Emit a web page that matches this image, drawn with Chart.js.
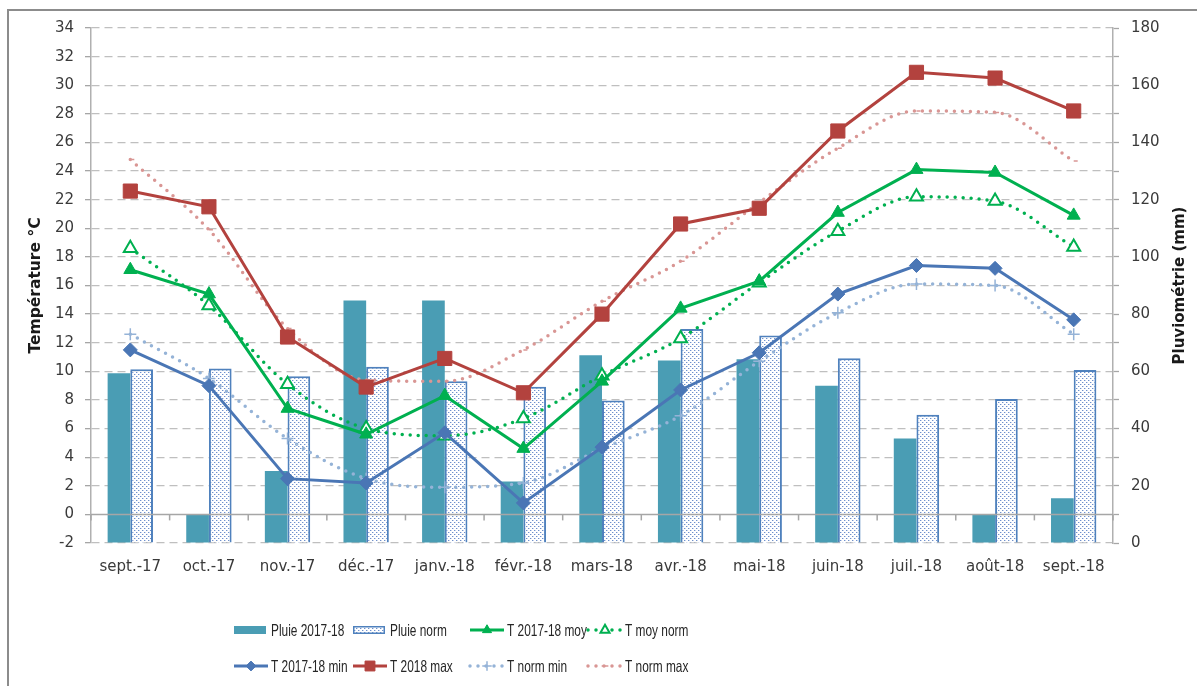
<!DOCTYPE html>
<html><head><meta charset="utf-8">
<script src="https://cdn.jsdelivr.net/npm/chart.js@4.4.1/dist/chart.umd.min.js"></script>
<style>
html,body{margin:0;padding:0;background:#fff;overflow:hidden}
#wrap{position:relative;width:1197px;height:686px}
</style></head>
<body><div id="wrap"><canvas id="c" width="1197" height="686"></canvas></div>
<script>
// ---------- DATA ----------
const months = ['sept.-17','oct.-17','nov.-17','déc.-17','janv.-18','févr.-18','mars-18','avr.-18','mai-18','juin-18','juil.-18','août-18','sept.-18'];
const pluie2017_18 = [59.3, 10, 25.2, 84.8, 84.8, 21.5, 65.6, 63.8, 64.2, 55, 36.5, 10, 15.6];
const pluieNorm    = [60.7, 61, 58.3, 61.6, 56.5, 54.6, 49.8, 74.8, 72.5, 64.6, 44.8, 50.3, 60.5];
const tMoy      = [17.1, 15.4, 7.4, 5.6, 8.3, 4.6, 9.3, 14.4, 16.3, 21.1, 24.1, 23.9, 20.9];
const tMoyNorm  = [18.6, 14.6, 9.1, 6.0, 5.5, 6.7, 9.7, 12.3, 16.2, 19.8, 22.2, 21.9, 18.7];
const tMin      = [11.5, 9.0, 2.5, 2.2, 5.7, 0.8, 4.7, 8.7, 11.3, 15.4, 17.4, 17.2, 13.6];
const tNormMin  = [12.6, 9.5, 5.3, 2.5, 1.9, 2.2, 4.6, 6.9, 10.7, 14.1, 16.1, 16.0, 12.6];
const tMax      = [22.6, 21.5, 12.4, 8.9, 10.9, 8.5, 14.0, 20.3, 21.4, 26.8, 30.9, 30.5, 28.2];
const tNormMax  = [24.8, 19.9, 13.0, 9.4, 9.3, 11.5, 14.9, 17.7, 21.8, 25.6, 28.2, 28.1, 24.7];
const leftTitle = 'Température °C';
const rightTitle = 'Pluviométrie (mm)';

// ---------- STYLE ----------
const teal = '#4a9db4', normBlue = '#4f81bd', green = '#00b050', red = '#b3423e',
      blue = '#4a76b5', lightBlue = '#95b3d7', pink = '#d99694';
const tickFont = {family: 'DejaVu Sans', size: 15};
const txt = '#3a3a3a';

const canvas = document.getElementById('c');
const ctx0 = canvas.getContext('2d');
function makePattern() {
  const p = document.createElement('canvas');
  p.width = 4; p.height = 4;
  const g = p.getContext('2d');
  g.fillStyle = '#ffffff'; g.fillRect(0, 0, 4, 4);
  g.fillStyle = '#6f90cc';
  g.fillRect(0, 0, 1, 1); g.fillRect(2, 2, 1, 1);
  g.fillStyle = '#c9d6ee';
  g.fillRect(1, 0, 1, 1); g.fillRect(3, 2, 1, 1);
  return ctx0.createPattern(p, 'repeat');
}
const dotPattern = makePattern();

function marker(ctx, style, x, y, r, fill, stroke, bw) {
  ctx.save();
  ctx.fillStyle = fill; ctx.strokeStyle = stroke; ctx.lineWidth = bw; ctx.setLineDash([]);
  ctx.beginPath();
  if (style === 'triangle') {
    for (let k = 0; k < 3; k++) {
      const a = -Math.PI / 2 + k * 2 * Math.PI / 3;
      const px = x + Math.cos(a) * r, py = y + Math.sin(a) * r;
      k ? ctx.lineTo(px, py) : ctx.moveTo(px, py);
    }
    ctx.closePath(); ctx.fill(); if (bw) ctx.stroke();
  } else if (style === 'rectRot') {
    ctx.moveTo(x, y - r); ctx.lineTo(x + r, y); ctx.lineTo(x, y + r); ctx.lineTo(x - r, y); ctx.closePath();
    ctx.fill(); if (bw) ctx.stroke();
  } else if (style === 'rect') {
    const s = r * Math.SQRT1_2;
    ctx.rect(x - s, y - s, 2 * s, 2 * s); ctx.fill(); if (bw) ctx.stroke();
  } else if (style === 'cross') {
    ctx.moveTo(x - r, y); ctx.lineTo(x + r, y); ctx.moveTo(x, y - r); ctx.lineTo(x, y + r); ctx.stroke();
  } else if (style === 'dash') {
    ctx.moveTo(x - r, y); ctx.lineTo(x + r, y); ctx.stroke();
  }
  ctx.restore();
}

const extras = {
  id: 'extras',
  beforeDraw(chart) {
    const ctx = chart.ctx;
    ctx.save();
    ctx.fillStyle = '#ffffff'; ctx.fillRect(0, 0, chart.width, chart.height);
    ctx.strokeStyle = '#8c8c8c'; ctx.lineWidth = 2;
    ctx.strokeRect(8, 10, chart.width + 50, chart.height + 50);
    ctx.restore();
  },
  afterDatasetsDraw(chart) {
    const ctx = chart.ctx, a = chart.chartArea, y = chart.scales.y, x = chart.scales.x;
    const y0 = y.getPixelForValue(0);
    ctx.save();
    ctx.strokeStyle = '#a6a6a6'; ctx.lineWidth = 1.5;
    ctx.beginPath(); ctx.moveTo(a.left, y0); ctx.lineTo(a.right, y0); ctx.stroke();
    const step = (a.right - a.left) / months.length;
    for (let i = 0; i <= months.length; i++) {
      const px = x.getPixelForValue(0) - step / 2 + i * step;
      ctx.beginPath(); ctx.moveTo(px, y0); ctx.lineTo(px, y0 + 6); ctx.stroke();
    }
    ctx.restore();
  },
  afterDraw(chart) {
    const ctx = chart.ctx, a = chart.chartArea;
    const cy = (a.top + a.bottom) / 2;
    ctx.save();
    ctx.fillStyle = '#1a1a1a';
    ctx.font = 'bold 15.5px "DejaVu Sans"';
    ctx.textAlign = 'center'; ctx.textBaseline = 'middle';
    ctx.translate(36, cy); ctx.rotate(-Math.PI / 2); ctx.fillText(leftTitle, 0, 0);
    ctx.restore();
    ctx.save();
    ctx.fillStyle = '#1a1a1a';
    ctx.font = 'bold 15px "DejaVu Sans"';
    ctx.textAlign = 'center'; ctx.textBaseline = 'middle';
    ctx.translate(1180, cy); ctx.rotate(-Math.PI / 2); ctx.fillText(rightTitle, 0, 0);
    ctx.restore();

    // legend (Excel-like grid of 2 rows x 4 columns)
    const ds = chart.data.datasets;
    const colX = [234, 353, 470, 588], rowY = [630, 666];
    ds.forEach((d, k) => {
      const lx = colX[k % 4], ly = rowY[Math.floor(k / 4)];
      ctx.save();
      if (d.type === 'bar') {
        ctx.fillStyle = d.backgroundColor;
        ctx.fillRect(lx, ly - 4, 32, 8);
        if (d.borderWidth) {
          ctx.strokeStyle = d.borderColor; ctx.lineWidth = 1.5;
          ctx.strokeRect(lx + 0.75, ly - 3.25, 30.5, 6.5);
        }
      } else {
        ctx.strokeStyle = d.borderColor; ctx.lineWidth = d.borderWidth;
        ctx.lineCap = d.borderCapStyle || 'butt';
        ctx.setLineDash(d.borderDash || []);
        ctx.beginPath(); ctx.moveTo(lx, ly); ctx.lineTo(lx + 34, ly); ctx.stroke();
        marker(ctx, d.pointStyle, lx + 17, ly, d.pointRadius * 0.7, d.pointBackgroundColor, d.pointBorderColor, d.pointBorderWidth);
      }
      ctx.restore();
      ctx.save();
      ctx.font = '16.5px "Liberation Sans"';
      ctx.textBaseline = 'middle'; ctx.textAlign = 'left';
      ctx.fillStyle = '#262626';
      ctx.translate(lx + 37, ly + 1);
      ctx.scale(0.72, 1);
      ctx.fillText(d.label, 0, 0);
      ctx.restore();
    });
  }
};

new Chart(canvas, {
  type: 'bar',
  data: {
    labels: months,
    datasets: [
      {type: 'bar', label: 'Pluie 2017-18', data: pluie2017_18, yAxisID: 'y1', backgroundColor: teal, borderWidth: 0, order: 10,
       categoryPercentage: 0.577, barPercentage: 1.0},
      {type: 'bar', label: 'Pluie norm', data: pluieNorm, yAxisID: 'y1', backgroundColor: dotPattern, borderColor: normBlue, borderWidth: 2, order: 10,
       categoryPercentage: 0.577, barPercentage: 1.0},
      {type: 'line', label: 'T 2017-18 moy', data: tMoy, yAxisID: 'y', borderColor: green, borderWidth: 3, tension: 0,
       pointStyle: 'triangle', pointRadius: 7.5, pointBackgroundColor: green, pointBorderColor: green, pointBorderWidth: 1, order: 2},
      {type: 'line', label: 'T moy norm', data: tMoyNorm, yAxisID: 'y', borderColor: green, borderWidth: 3.5, borderDash: [0, 8], borderCapStyle: 'round', cubicInterpolationMode: 'monotone',
       pointStyle: 'triangle', pointRadius: 7.5, pointBackgroundColor: '#ffffff', pointBorderColor: green, pointBorderWidth: 2, order: 3},
      {type: 'line', label: 'T 2017-18 min', data: tMin, yAxisID: 'y', borderColor: blue, borderWidth: 3, tension: 0,
       pointStyle: 'rectRot', pointRadius: 7, pointBackgroundColor: blue, pointBorderColor: blue, pointBorderWidth: 1, order: 2},
      {type: 'line', label: 'T 2018 max', data: tMax, yAxisID: 'y', borderColor: red, borderWidth: 3, tension: 0,
       pointStyle: 'rect', pointRadius: 10, pointBackgroundColor: red, pointBorderColor: red, pointBorderWidth: 1, order: 2},
      {type: 'line', label: 'T norm min', data: tNormMin, yAxisID: 'y', borderColor: lightBlue, borderWidth: 3.5, borderDash: [0, 8], borderCapStyle: 'round', cubicInterpolationMode: 'monotone',
       pointStyle: 'cross', pointRadius: 6, pointBackgroundColor: lightBlue, pointBorderColor: lightBlue, pointBorderWidth: 1.5, order: 4},
      {type: 'line', label: 'T norm max', data: tNormMax, yAxisID: 'y', borderColor: pink, borderWidth: 3.5, borderDash: [0, 8], borderCapStyle: 'round', cubicInterpolationMode: 'monotone',
       pointStyle: 'dash', pointRadius: 4, pointBackgroundColor: pink, pointBorderColor: pink, pointBorderWidth: 1.5, order: 4}
    ]
  },
  options: {
    responsive: false,
    devicePixelRatio: 1,
    animation: false,
    layout: {padding: {top: 28, left: 0, right: 0, bottom: 0}},
    plugins: {legend: {display: false}, tooltip: {enabled: false}},
    scales: {
      x: {
        grid: {display: false, drawTicks: false},
        border: {display: false},
        ticks: {font: tickFont, color: txt, padding: 15, maxRotation: 0, autoSkip: false},
        afterFit(s) { s.height = 143; }
      },
      y: {
        position: 'left', min: -2, max: 34,
        ticks: {stepSize: 2, font: tickFont, color: txt, padding: 11},
        grid: {color: c => c.tick && c.tick.value === 0 ? 'rgba(0,0,0,0)' : '#bfbfbf', lineWidth: 1.3,
               drawTicks: true, tickLength: 6, tickColor: '#a6a6a6', tickWidth: 1.3},
        border: {display: true, color: '#b0b0b0', width: 1.5, dash: [8, 5]},
        afterFit(s) { s.width = 91; }
      },
      y1: {
        position: 'right', min: 0, max: 180,
        ticks: {stepSize: 10, font: tickFont, color: txt, padding: 12, callback: v => (v % 20 === 0 ? String(v) : '')},
        grid: {drawOnChartArea: false, drawTicks: true, tickLength: 6, tickColor: '#a6a6a6', tickWidth: 1.3},
        border: {display: true, color: '#b0b0b0', width: 1.5},
        afterFit(s) { s.width = 84; }
      }
    }
  },
  plugins: [extras]
});
</script>
</body></html>
